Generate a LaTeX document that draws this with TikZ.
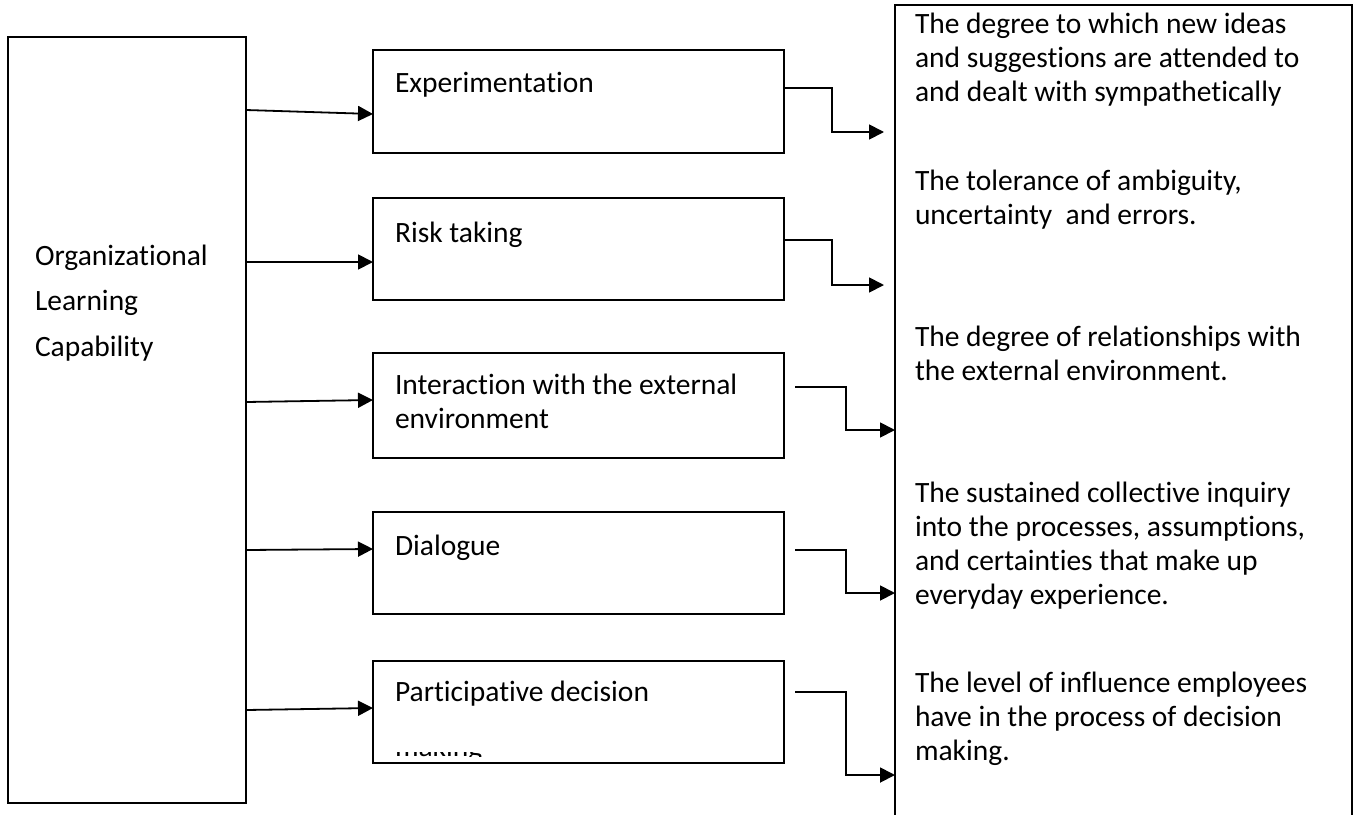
\documentclass[tikz,border=0pt]{standalone}
\usepackage{fontspec}
\setmainfont{Carlito}[Ligatures=NoCommon]
\usetikzlibrary{arrows.meta}
\begin{document}
\begin{tikzpicture}[x=1pt,y=-1pt,
  box/.style={draw,line width=1.8pt,inner sep=0pt,outer sep=0pt,fill=white},
  txt/.style={anchor=base west,inner sep=0pt,outer sep=0pt,font=\fontsize{29.5}{34}\selectfont},
  arr/.style={line width=1.8pt,-{Triangle[length=15pt,width=15pt]}},
  lnk/.style={line width=1.8pt}]
\useasboundingbox (0,0) rectangle (1354,814);
\clip (0,0) rectangle (1354,814);
% left box
\node[box,minimum width=238pt,minimum height=766pt] (L) at (127,420) {};
\node[txt] (t1) at (35,265) {Organizational};
\node[txt] (t2) at (35,310) {Learning};
\node[txt] (t3) at (35,356) {Capability};
% middle boxes
\node[box,minimum width=411pt,minimum height=103pt] (E) at (578.5,101.5) {};
\node[box,minimum width=411pt,minimum height=102pt] (R) at (578.5,249) {};
\node[box,minimum width=411pt,minimum height=105pt] (I) at (578.5,405.5) {};
\node[box,minimum width=411pt,minimum height=102pt] (D) at (578.5,563) {};
\node[box,minimum width=411pt,minimum height=102pt] (P) at (578.5,712) {};
\node[txt] (tE) at (395,92) {Experimentation};
\node[txt] (tR) at (395,242) {Risk taking};
\node[txt] (tI1) at (395,394) {Interaction with the external};
\node[txt] (tI2) at (395,428) {environment};
\node[txt] (tD) at (395,555) {Dialogue};
\node[txt] (tP1) at (395,701) {Participative decision};
\begin{scope}
  \clip (373,752) rectangle (784,756);
  \node[txt] (tP2) at (395,756) {making};
\end{scope}
% right box
\node[box,minimum width=457pt,minimum height=895pt] (RB) at (1123.5,452.5) {};
\node[txt] (r1) at (915,33) {The degree to which new ideas};
\node[txt] (r2) at (915,67) {and suggestions are attended to};
\node[txt] (r3) at (915,101) {and dealt with sympathetically};
\node[txt] (r4) at (915,190) {The tolerance of ambiguity,};
\node[txt] (r5) at (915,224) {uncertainty\ \ and errors.};
\node[txt] (r6) at (915,346) {The degree of relationships with};
\node[txt] (r7) at (915,380) {the external environment.};
\node[txt] (r8) at (915,502) {The sustained collective inquiry};
\node[txt] (r9) at (915,536) {into the processes, assumptions,};
\node[txt] (r10) at (915,570) {and certainties that make up};
\node[txt] (r11) at (915,604) {everyday experience.};
\node[txt] (r12) at (915,692) {The level of influence employees};
\node[txt] (r13) at (915,726) {have in the process of decision};
\node[txt] (r14) at (915,760) {making.};
% left connectors
\draw[arr] ([yshift=310pt]L.east) -- ([yshift=-12.5pt]E.west);
\draw[arr] ([yshift=158pt]L.east) -- ([yshift=-13pt]R.west);
\draw[arr] ([yshift=18pt]L.east) -- ([yshift=5.5pt]I.west);
\draw[arr] ([yshift=-130pt]L.east) -- ([yshift=14pt]D.west);
\draw[arr] ([yshift=-290pt]L.east) -- ([yshift=4pt]P.west);
% right connectors
\draw[arr] ([yshift=13.5pt]E.east) -- ++(48,0) |- ([xshift=-11pt,yshift=320.5pt]RB.west);
\draw[arr] ([yshift=9pt]R.east) -- ++(48,0) |- ([xshift=-11pt,yshift=167.5pt]RB.west);
\draw[arr] ([xshift=11pt,yshift=18.5pt]I.east) -- ++(51,0) |- ([yshift=22.5pt]RB.west);
\draw[arr] ([xshift=11pt,yshift=13pt]D.east) -- ++(51,0) |- ([yshift=-140.5pt]RB.west);
\draw[arr] ([xshift=11pt,yshift=20pt]P.east) -- ++(51,0) |- ([yshift=-322.5pt]RB.west);
\end{tikzpicture}
\end{document}
